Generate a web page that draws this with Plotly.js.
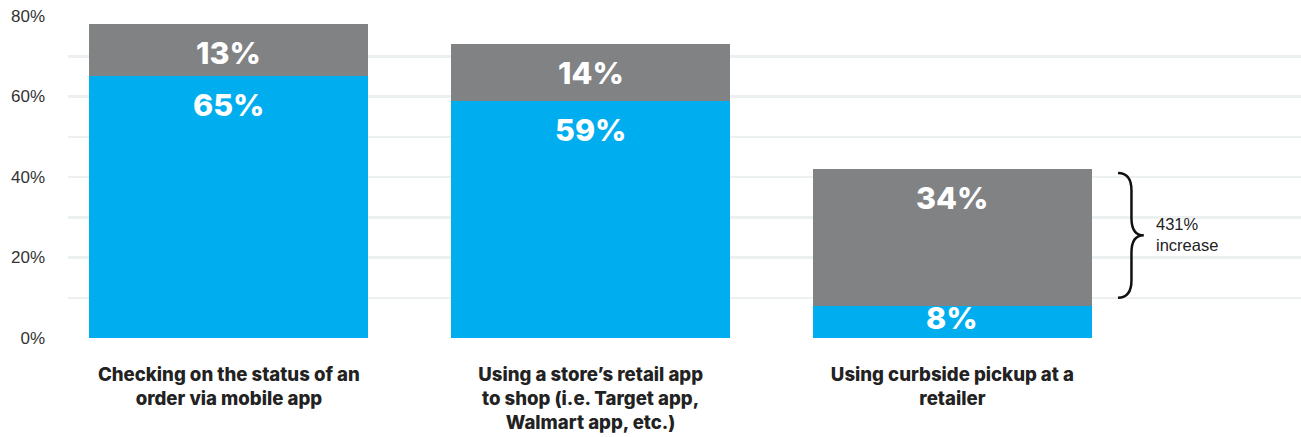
<!DOCTYPE html>
<html>
<head>
<meta charset="utf-8">
<script src="https://cdn.plot.ly/plotly-3.0.1.min.js"></script>
<style>html,body{margin:0;padding:0;background:#fff;}#chart{width:1301px;height:437px;}</style>
</head>
<body>
<div id="chart"></div>
<script>
const categories = [
  'Checking on the status of an<br>order via mobile app',
  'Using a store’s retail app<br>to shop (i.e. Target app,<br>Walmart app, etc.)',
  'Using curbside pickup at a<br>retailer'
];
const blueValues = [65, 59, 8];
const grayValues = [13, 14, 34];
const yTickVals = [0, 20, 40, 60, 80];
const yTickText = ['0%', '20%', '40%', '60%', '80%'];
const noteText = ['431%', 'increase'];

const BLUE = '#00aeef', GRAY = '#818284';
const traces = [
  {type: 'bar', x: categories, y: blueValues, marker: {color: BLUE}, width: 0.771, hoverinfo: 'skip'},
  {type: 'bar', x: categories, y: grayValues, marker: {color: GRAY}, width: 0.771, hoverinfo: 'skip'}
];

function labelY(top, seg) { return top - (seg > 10 ? 7.1 : seg * 0.35); }
const valFont = {family: 'Inter, sans-serif', size: 30.5, weight: 800, color: '#fff'};
const annotations = [];
categories.forEach((c, i) => {
  const b = blueValues[i], g = grayValues[i];
  annotations.push({x: c, y: labelY(b, b), xref: 'x', yref: 'y', text: b + '%', showarrow: false,
    yanchor: 'middle', font: valFont});
  annotations.push({x: c, y: labelY(b + g, g), xref: 'x', yref: 'y', text: g + '%', showarrow: false,
    yanchor: 'middle', font: valFont});
});
const last = categories.length - 1;
const yTop = blueValues[last] + grayValues[last] - 1;
const yBot = blueValues[last] + 2;
const yMid = (yTop + yBot) / 2;
annotations.push({x: 0.881, xref: 'paper', y: yMid + 0.3, yref: 'y', xanchor: 'left', yanchor: 'middle', align: 'left',
  text: noteText.join('<br>'), showarrow: false,
  font: {family: 'Liberation Sans, Arial, sans-serif', size: 16.5, color: '#222'}});

const xe = 0.8516, xs = 0.8625, xt = 0.8725;
const q = (yTop - yMid) * 0.28;
const bracePath = `M ${xe},${yTop} Q ${xs},${yTop} ${xs},${yTop - q} L ${xs},${yMid + q} Q ${xs},${yMid} ${xt},${yMid} ` +
  `Q ${xs},${yMid} ${xs},${yMid - q} L ${xs},${yBot + q} Q ${xs},${yBot} ${xe},${yBot}`;

const layout = {
  width: 1301, height: 437,
  margin: {l: 68, r: 0, t: 16, b: 99},
  barmode: 'stack',
  showlegend: false,
  plot_bgcolor: '#fff', paper_bgcolor: '#fff',
  xaxis: {
    type: 'category', range: [-0.4448, 2.9637], showgrid: false, zeroline: false, showline: false,
    ticks: '', ticklabelstandoff: 23,
    tickfont: {family: 'Inter, sans-serif', size: 18.6, weight: 800, color: '#222'}
  },
  yaxis: {
    range: [0, 80], tickvals: yTickVals, ticktext: yTickText,
    showgrid: true, gridcolor: '#edf0f0', gridwidth: 2.5, zeroline: false, showline: false,
    minor: {dtick: 10, showgrid: true, gridcolor: '#edf0f0', gridwidth: 2.5, ticks: ''},
    ticks: '', ticklabelstandoff: 22,
    tickfont: {family: 'Liberation Sans, Arial, sans-serif', size: 17, color: '#333'}
  },
  annotations: annotations,
  shapes: [{type: 'path', xref: 'paper', yref: 'y', path: bracePath, line: {color: '#111', width: 2.5}}]
};
Plotly.newPlot('chart', traces, layout, {staticPlot: true});
</script>
</body>
</html>
